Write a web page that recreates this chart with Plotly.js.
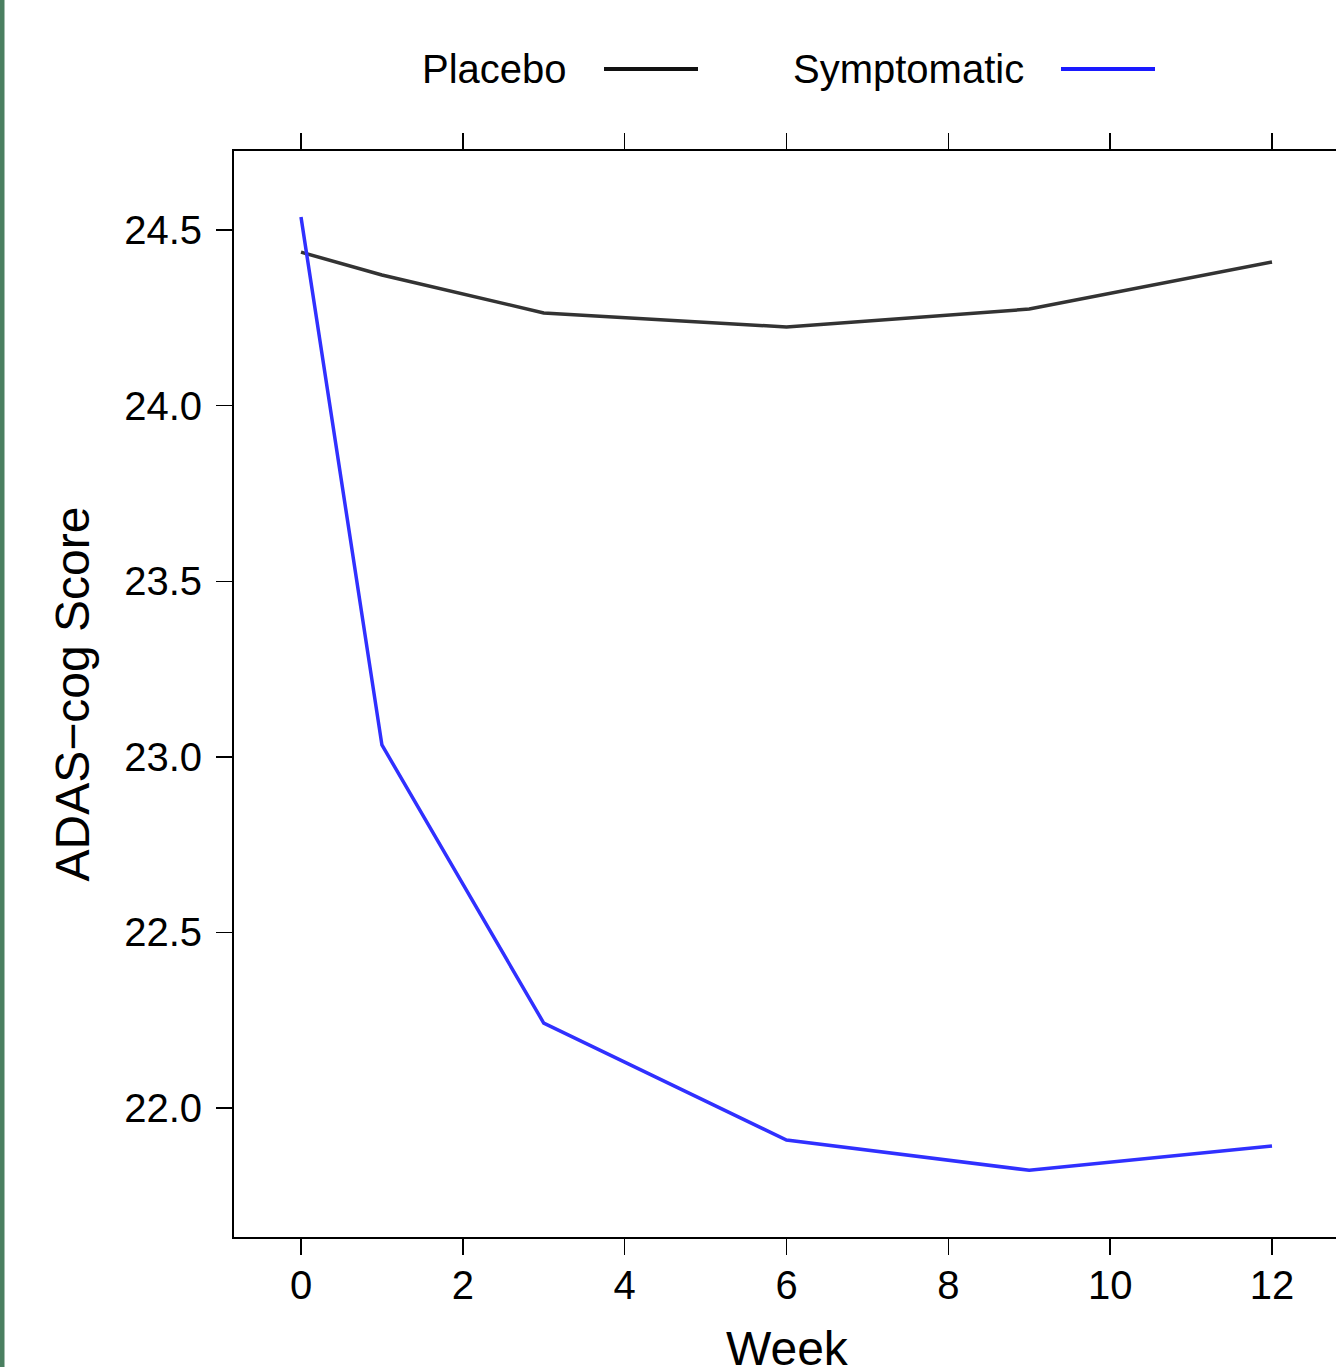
<!DOCTYPE html>
<html>
<head>
<meta charset="utf-8">
<script src="https://cdn.plot.ly/plotly-3.0.1.min.js"></script>
<style>
html,body{margin:0;padding:0;background:#fff;overflow:hidden;}
#chart{width:1336px;height:1367px;}
</style>
</head>
<body>
<div id="chart"></div>
<script>
// Data
const weeks = [0, 1, 3, 6, 9, 12];
const placebo = [24.437, 24.372, 24.264, 24.224, 24.275, 24.409];
const symptomatic = [24.537, 23.034, 22.242, 21.909, 21.823, 21.892];
const seriesNames = ["Placebo", "Symptomatic"];
const seriesColors = ["#333333", "#3030ff"];
const legendColors = ["#111111", "#1a1aff"];
const xTicks = [0, 2, 4, 6, 8, 10, 12];
const yTicks = [22.0, 22.5, 23.0, 23.5, 24.0, 24.5];
const yTickText = ["22.0", "22.5", "23.0", "23.5", "24.0", "24.5"];
const xTitle = "Week";
const yTitle = "ADAS\u2212cog Score";

const FONT = "Liberation Sans, Arial, Helvetica, sans-serif";

const traces = [
  {x: weeks, y: placebo, name: seriesNames[0], mode: "lines",
   line: {color: seriesColors[0], width: 3.5}, showlegend: false},
  {x: weeks, y: symptomatic, name: seriesNames[1], mode: "lines",
   line: {color: seriesColors[1], width: 3.5}, showlegend: false}
];

// plot area geometry (pixels) for paper-coordinate legend placement
const W = 1336, H = 1367, L = 234, T = 151, B = 130;
const PW = W - L, PH = H - T - B;
const px = v => (v - L) / PW;
const py = v => (H - B - v) / PH;

const annotations = [
  {text: seriesNames[0], xref: "paper", yref: "paper", x: px(569), y: py(69),
   xanchor: "right", yanchor: "middle", showarrow: false, font: {family: FONT, size: 40, color: "#000"}},
  {text: seriesNames[1], xref: "paper", yref: "paper", x: px(1026), y: py(69),
   xanchor: "right", yanchor: "middle", showarrow: false, font: {family: FONT, size: 40, color: "#000"}},
  {text: xTitle, xref: "paper", yref: "paper", x: px(787), y: py(1348),
   xanchor: "center", yanchor: "middle", showarrow: false, font: {family: FONT, size: 48, color: "#000"}}
];

const shapes = [
  {type: "line", xref: "paper", yref: "paper", x0: px(604), x1: px(698), y0: py(69), y1: py(69),
   line: {color: legendColors[0], width: 4}},
  {type: "line", xref: "paper", yref: "paper", x0: px(1061), x1: px(1155), y0: py(69), y1: py(69),
   line: {color: legendColors[1], width: 4}},
  {type: "rect", xref: "paper", yref: "paper", x0: px(0), x1: px(4.5), y0: py(H + 5), y1: py(-5),
   fillcolor: "#4a7f60", line: {width: 0}, layer: "below"}
];

const layout = {
  width: W, height: H,
  margin: {l: L, r: 0, t: T, b: B, pad: 0},
  paper_bgcolor: "#fff", plot_bgcolor: "#fff",
  font: {family: FONT, color: "#000", size: 40},
  showlegend: false,
  xaxis: {
    range: [-0.828, 12.791], tickvals: xTicks, ticktext: xTicks.map(String),
    ticks: "outside", ticklen: 16, tickwidth: 1.5, tickcolor: "#000",
    showline: true, linecolor: "#000", linewidth: 2, mirror: "allticks",
    showgrid: false, zeroline: false, ticklabelstandoff: -4,
    tickfont: {family: FONT, size: 40, color: "#000"}
  },
  yaxis: {
    range: [21.633, 24.725], tickvals: yTicks, ticktext: yTickText,
    ticks: "outside", ticklen: 16, tickwidth: 1.5, tickcolor: "#000",
    showline: true, linecolor: "#000", linewidth: 2, mirror: false,
    showgrid: false, zeroline: false, ticklabelstandoff: 6,
    tickfont: {family: FONT, size: 40, color: "#000"},
    title: {text: yTitle, font: {family: FONT, size: 48, color: "#000"}, standoff: 19}
  },
  annotations: annotations,
  shapes: shapes
};

Plotly.newPlot("chart", traces, layout, {displayModeBar: false, staticPlot: true});
</script>
</body>
</html>
